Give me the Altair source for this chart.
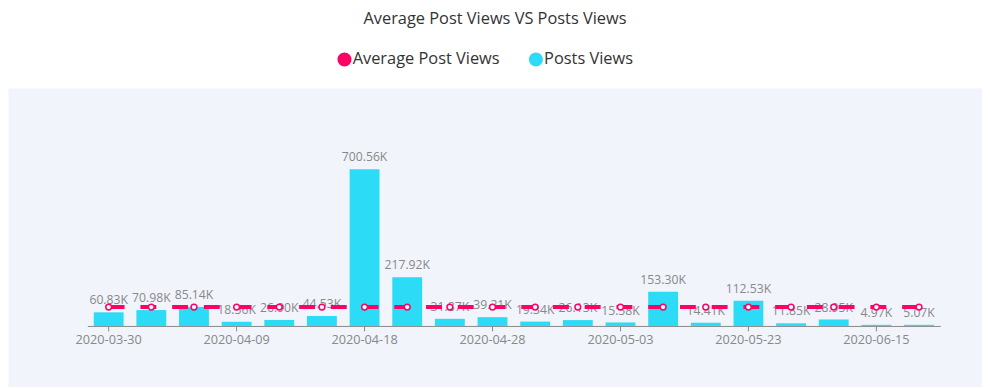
import altair as alt
import pandas as pd

dates = ["2020-03-30", "2020-04-02", "2020-04-06", "2020-04-09", "2020-04-12",
         "2020-04-15", "2020-04-18", "2020-04-21", "2020-04-25", "2020-04-28",
         "2020-04-30", "2020-05-01", "2020-05-03", "2020-05-08", "2020-05-15",
         "2020-05-23", "2020-05-30", "2020-06-07", "2020-06-15", "2020-06-20"]
posts_views = [60830, 70980, 85140, 18560, 26900, 44530, 700560, 217920, 31870, 39210,
               19340, 26130, 15580, 153300, 14410, 112530, 11850, 28950, 4970, 5070]
avg_post_views = [84430, 84430, 84430, 84430, 84430, 84430, 84430, 84430, 84430, 84430,
                  84430, 84430, 84430, 84430, 84430, 84430, 84430, 84430, 84430, 84430]
axis_dates = ["2020-03-30", "2020-04-09", "2020-04-18", "2020-04-28",
              "2020-05-03", "2020-05-23", "2020-06-15"]
series_names = ["Average Post Views", "Posts Views"]
series_colors = ["#FF0066", "#2CDBF5"]

df = pd.DataFrame({"date": dates, "views": posts_views, "avg": avg_post_views})

FONT = "Open Sans"
xscale = alt.Scale(range=[80, 940], paddingInner=0.3, paddingOuter=0.15)
yscale = alt.Scale(domain=[0, 1064.2], range=[240, 0])

x = alt.X("date:N", sort=None, scale=xscale, title=None,
          axis=alt.Axis(values=axis_dates, labelAngle=0, offset=-(301 - 240),
                        labelColor="#888888", labelFont=FONT, labelFontSize=12.8,
                        domainColor="#888888", tickColor="#888888", tickSize=5,
                        labelPadding=3, grid=False))

base = alt.Chart(df).transform_calculate(
    vk="datum.views / 1000", ak="datum.avg / 1000",
    lbl="format(datum.views / 1000, '.2f') + 'K'",
    series="'Posts Views'")

bars = base.mark_bar().encode(
    x=x,
    y=alt.Y("vk:Q", scale=yscale, axis=None),
    color=alt.Color("series:N", title=None,
                    scale=alt.Scale(domain=series_names, range=series_colors),
                    legend=alt.Legend(orient="none", legendX=331, legendY=-37,
                                      direction="horizontal", symbolType="circle",
                                      symbolSize=200, symbolStrokeWidth=0,
                                      labelFont=FONT, labelFontSize=16.5,
                                      labelColor="#333333", labelOffset=0,
                                      columnPadding=28, padding=0)),
)

labels = base.mark_text(baseline="bottom", dy=-5, font=FONT, fontSize=12.3,
                        color="#888888").encode(
    x=alt.X("date:N", sort=None, scale=xscale),
    y=alt.Y("vk:Q", scale=yscale),
    text="lbl:N",
)

line = base.mark_line(color="#FF0066", strokeWidth=4, strokeDash=[16, 16]).encode(
    x=alt.X("date:N", sort=None, scale=xscale),
    y=alt.Y("ak:Q", scale=yscale),
)

points = base.mark_point(shape="circle", filled=True, fill="white", stroke="#FF0066",
                         strokeWidth=1.5, size=34, opacity=1).encode(
    x=alt.X("date:N", sort=None, scale=xscale),
    y=alt.Y("ak:Q", scale=yscale),
)

chart = alt.layer(bars, labels, line, points).properties(
    width=982, height=301,
    autosize=alt.AutoSizeParams(type="none"),
    padding={"left": 0, "top": 79, "right": 0, "bottom": 0},
    title=alt.TitleParams("Average Post Views VS Posts Views", anchor="middle",
                          font=FONT, fontSize=16.5, fontWeight="normal",
                          color="#333333", offset=24),
).configure(
    background="white",
    view=alt.ViewConfig(stroke="transparent", fill="#F1F4FB"),
)

chart.save("out.html", embed_options={"renderer": "svg", "actions": False})
